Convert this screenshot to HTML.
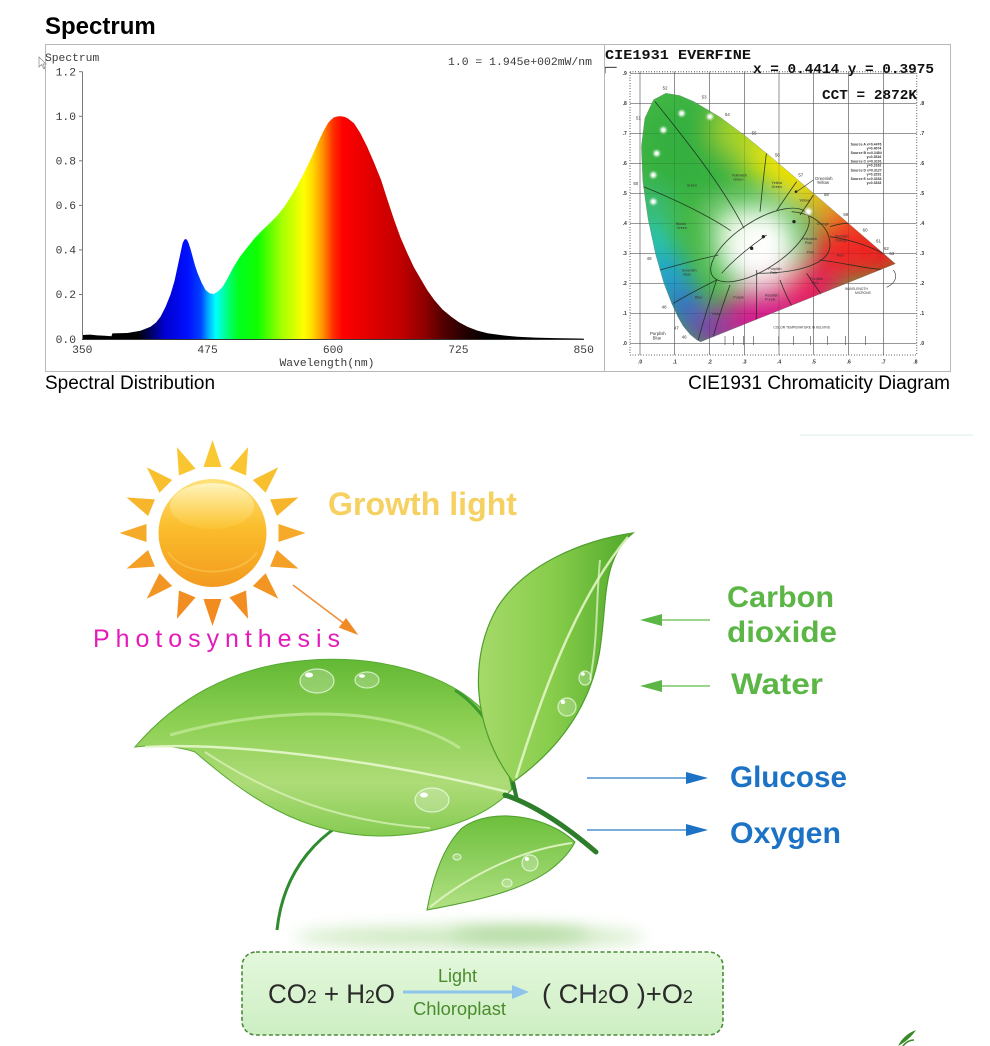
<!DOCTYPE html>
<html><head><meta charset="utf-8"><style>
html,body{margin:0;padding:0;background:#fff;}
svg{display:block;}
</style></head><body>
<svg width="990" height="1046" viewBox="0 0 990 1046" xmlns="http://www.w3.org/2000/svg">
<defs>
  <linearGradient id="spec" gradientUnits="userSpaceOnUse" x1="82.3" y1="0" x2="583.7" y2="0">
    <stop offset="0" stop-color="#000"/>
    <stop offset=".11" stop-color="#000"/>
    <stop offset=".136" stop-color="#000060"/>
    <stop offset=".164" stop-color="#0000d0"/>
    <stop offset=".21" stop-color="#0010ff"/>
    <stop offset=".236" stop-color="#0040ff"/>
    <stop offset=".252" stop-color="#00b0ff"/>
    <stop offset=".266" stop-color="#00ffff"/>
    <stop offset=".286" stop-color="#00ff90"/>
    <stop offset=".31" stop-color="#00ff20"/>
    <stop offset=".35" stop-color="#10ff00"/>
    <stop offset=".396" stop-color="#a0ff00"/>
    <stop offset=".442" stop-color="#ffff00"/>
    <stop offset=".46" stop-color="#ffd800"/>
    <stop offset=".48" stop-color="#ff9000"/>
    <stop offset=".50" stop-color="#ff3000"/>
    <stop offset=".52" stop-color="#ff0000"/>
    <stop offset=".56" stop-color="#e80000"/>
    <stop offset=".636" stop-color="#c00000"/>
    <stop offset=".682" stop-color="#900000"/>
    <stop offset=".722" stop-color="#500000"/>
    <stop offset=".768" stop-color="#200000"/>
    <stop offset=".808" stop-color="#000"/>
  </linearGradient>
  <filter id="blurBig" x="-50%" y="-50%" width="200%" height="200%"><feGaussianBlur stdDeviation="40"/></filter>
  <filter id="blur8" x="-50%" y="-200%" width="200%" height="500%"><feGaussianBlur stdDeviation="8"/></filter>
  <filter id="blur3" x="-50%" y="-50%" width="200%" height="200%"><feGaussianBlur stdDeviation="3"/></filter>
  <clipPath id="locus"><path d="M301.6,905.5 L291.5,900.2 L283.3,894.1 L270.2,883.3 L249.4,858.0 L234.3,831.9 L215.2,790.6 L191.7,729.4 L167.4,644.5 L144.5,538.6 L128.6,425.4 L124.1,320.7 L134.5,234.8 L160.6,179.2 L197.5,159.6 L239.1,166.4 L281.4,184.7 L359.5,231.1 L434.6,286.9 L509.2,347.9 L583.2,410.8 L654.5,472.1 L720.0,528.2 L774.0,574.8 L841.2,632.5 L869.9,657.2 L886.3,671.2 Z"/></clipPath>
  <linearGradient id="sunG" x1="0" y1="0" x2="0" y2="1">
    <stop offset="0" stop-color="#fde27a"/>
    <stop offset=".45" stop-color="#fbbd2c"/>
    <stop offset="1" stop-color="#f39a1f"/>
  </linearGradient>
  <linearGradient id="sunH" x1="0" y1="0" x2="0" y2="1">
    <stop offset="0" stop-color="#fff4c0"/>
    <stop offset="1" stop-color="#fcd24a" stop-opacity=".3"/>
  </linearGradient>
  <linearGradient id="leafL" x1="0" y1="0" x2="0" y2="1">
    <stop offset="0" stop-color="#62b834"/>
    <stop offset=".35" stop-color="#8ccf52"/>
    <stop offset=".7" stop-color="#aedc78"/>
    <stop offset="1" stop-color="#86cb52"/>
  </linearGradient>
  <linearGradient id="leafR" x1="0" y1="0" x2="1" y2="0">
    <stop offset="0" stop-color="#a6da6a"/>
    <stop offset=".5" stop-color="#86cc4a"/>
    <stop offset="1" stop-color="#4fa82a"/>
  </linearGradient>
  <linearGradient id="leafS" x1="0" y1="0" x2="0" y2="1">
    <stop offset="0" stop-color="#6cbf3c"/>
    <stop offset="1" stop-color="#b2e184"/>
  </linearGradient>
  <linearGradient id="boxG" x1="0" y1="0" x2="0" y2="1">
    <stop offset="0" stop-color="#e4f8dc"/>
    <stop offset="1" stop-color="#cdeec3"/>
  </linearGradient>
</defs>

<!-- ============ TOP: SPECTRUM ============ -->
<text x="45" y="34" font-family="Liberation Sans, sans-serif" font-weight="bold" font-size="24" fill="#000">Spectrum</text>
<rect x="45.5" y="44.5" width="905" height="327" fill="#fff" stroke="#b8b8b8" stroke-width="1"/>

<path fill="url(#spec)" d="M82.3,339 L82.3,335.0 L90,334.6 L97.3,335.4 L105,335.8 L111.4,336.3 L112.4,333.4 L127.4,333.0 L140.5,330.8 L150.5,326.8 L156,322.5 L160.5,316.7 L165.5,307 L170.5,294.5 L174.5,281 L177.6,266.6 L180.5,253 L182.6,243.2 L184.3,239.8 L185.6,239.0 L187,239.8 L188.6,243.2 L190.5,249 L192.6,256.6 L195,265.5 L197.6,273.1 L201.5,282.5 L205.6,290.0 L209.5,293.3 L213.7,294.0 L218,291.5 L222.7,286.7 L228,277.5 L233.7,266.6 L240.5,256 L247.8,246.8 L254,239 L260.8,231.7 L269,224 L277.8,215.0 L284.5,206.5 L290.9,196.5 L297.5,185.5 L303.9,173.1 L311,158.5 L317.9,143.0 L323,132 L328.0,123.0 L331,119.7 L334.0,117.4 L337.5,116.4 L341.0,116.3 L344.5,116.9 L348,118.5 L354.1,123.4 L360.5,133.5 L367.1,146.6 L374,162.5 L381.1,180.0 L387.5,200 L394.2,220.1 L400.5,237.5 L407.2,253.0 L414,267.5 L421.3,280.0 L427.5,290.5 L434.3,300.0 L442.5,309.5 L451.3,316.7 L459,322.3 L467.4,326.8 L477,330.5 L487.5,333.2 L502,335.3 L517.5,336.8 L535,337.6 L554.6,338.1 L583.7,338.6 L583.7,339 Z"/>

<g stroke="#7a7a7a" stroke-width="1" fill="none">
  <line x1="82.5" y1="71.7" x2="82.5" y2="339"/>
  <line x1="82" y1="339.5" x2="584" y2="339.5" stroke="#333"/>
  <line x1="79" y1="71.7" x2="82.5" y2="71.7"/>
  <line x1="79" y1="116.3" x2="82.5" y2="116.3"/>
  <line x1="79" y1="160.8" x2="82.5" y2="160.8"/>
  <line x1="79" y1="205.4" x2="82.5" y2="205.4"/>
  <line x1="79" y1="249.9" x2="82.5" y2="249.9"/>
  <line x1="79" y1="294.5" x2="82.5" y2="294.5"/>
</g>
<g font-family="Liberation Mono, monospace" font-size="11.3" fill="#3a3a3a">
  <text x="76" y="75.5" text-anchor="end">1.2</text>
  <text x="76" y="120" text-anchor="end">1.0</text>
  <text x="76" y="164.5" text-anchor="end">0.8</text>
  <text x="76" y="209" text-anchor="end">0.6</text>
  <text x="76" y="253.5" text-anchor="end">0.4</text>
  <text x="76" y="298" text-anchor="end">0.2</text>
  <text x="76" y="343" text-anchor="end">0.0</text>
  <text x="82.3" y="353" text-anchor="middle">350</text>
  <text x="207.6" y="353" text-anchor="middle">475</text>
  <text x="333" y="353" text-anchor="middle">600</text>
  <text x="458.4" y="353" text-anchor="middle">725</text>
  <text x="583.7" y="353" text-anchor="middle">850</text>
  <text x="327" y="366" text-anchor="middle">Wavelength(nm)</text>
  <text x="45" y="61">Spectrum</text>
  <text x="448" y="65" textLength="144" lengthAdjust="spacingAndGlyphs">1.0 = 1.945e+002mW/nm</text>
</g>
<polygon points="39,57 39,67 41.5,64.5 44,69 45,68.5 43,64 46,64" fill="#fff" stroke="#888" stroke-width="0.7"/>

<!-- ============ CIE DIAGRAM ============ -->
<svg x="600" y="40" width="360" height="350" viewBox="0 0 1080 1050">
  <g stroke="#5a5a5a" stroke-width="2" fill="none">
    <line x1="120" y1="95" x2="120" y2="945"/><line x1="224" y1="95" x2="224" y2="945"/>
    <line x1="329" y1="95" x2="329" y2="945"/><line x1="433" y1="95" x2="433" y2="945"/>
    <line x1="537" y1="95" x2="537" y2="945"/><line x1="641" y1="95" x2="641" y2="945"/>
    <line x1="746" y1="95" x2="746" y2="945"/><line x1="850" y1="95" x2="850" y2="945"/>
    <line x1="90" y1="100" x2="950" y2="100"/><line x1="90" y1="190" x2="950" y2="190"/>
    <line x1="90" y1="280" x2="950" y2="280"/><line x1="90" y1="370" x2="950" y2="370"/>
    <line x1="90" y1="460" x2="950" y2="460"/><line x1="90" y1="550" x2="950" y2="550"/>
    <line x1="90" y1="640" x2="950" y2="640"/><line x1="90" y1="730" x2="950" y2="730"/>
    <line x1="90" y1="820" x2="950" y2="820"/><line x1="90" y1="910" x2="950" y2="910"/>
  </g>
  <rect x="90" y="95" width="860" height="850" fill="none" stroke="#444" stroke-width="4" stroke-dasharray="2 6"/>
  <line x1="15" y1="82" x2="50" y2="82" stroke="#333" stroke-width="3"/>
  <line x1="15" y1="82" x2="15" y2="100" stroke="#333" stroke-width="3"/>
  <g font-family="Liberation Sans, sans-serif" font-size="15" font-weight="bold" fill="#333">
    <text x="68" y="105">.9</text><text x="68" y="195">.8</text><text x="68" y="285">.7</text>
    <text x="68" y="375">.6</text><text x="68" y="465">.5</text><text x="68" y="555">.4</text>
    <text x="68" y="645">.3</text><text x="68" y="735">.2</text><text x="68" y="825">.1</text><text x="68" y="915">.0</text>
    <text x="960" y="195">.8</text><text x="960" y="285">.7</text><text x="960" y="375">.6</text>
    <text x="960" y="465">.5</text><text x="960" y="555">.4</text><text x="960" y="645">.3</text>
    <text x="960" y="735">.2</text><text x="960" y="825">.1</text><text x="960" y="915">.0</text>
    <text x="114" y="970">.0</text><text x="218" y="970">.1</text><text x="323" y="970">.2</text>
    <text x="427" y="970">.3</text><text x="531" y="970">.4</text><text x="635" y="970">.5</text>
    <text x="740" y="970">.6</text><text x="844" y="970">.7</text><text x="940" y="970">.8</text>
  </g>
  <g clip-path="url(#locus)">
    <rect x="100" y="140" width="800" height="780" fill="#44b844"/>
    <g filter="url(#blurBig)">
      <circle cx="260" cy="330" r="150" fill="#35b040"/>
      <circle cx="420" cy="270" r="80" fill="#a8d428"/>
      <circle cx="520" cy="360" r="80" fill="#e8e410"/>
      <circle cx="600" cy="420" r="70" fill="#f8e000"/>
      <circle cx="680" cy="500" r="60" fill="#f6a821"/>
      <circle cx="760" cy="570" r="80" fill="#f04a22"/>
      <circle cx="840" cy="640" r="80" fill="#ee1c1c"/>
      <circle cx="720" cy="640" r="90" fill="#f02828"/>
      <circle cx="620" cy="760" r="90" fill="#e81e60"/>
      <circle cx="480" cy="820" r="100" fill="#d81f8e"/>
      <circle cx="350" cy="870" r="60" fill="#a02aa8"/>
      <circle cx="290" cy="860" r="40" fill="#6030c0"/>
      <circle cx="250" cy="790" r="55" fill="#2f5ee0"/>
      <circle cx="200" cy="700" r="60" fill="#1a9ee8"/>
      <circle cx="160" cy="600" r="50" fill="#1ec8dc"/>
      <circle cx="150" cy="500" r="40" fill="#30c0a0"/>
      <circle cx="470" cy="615" r="120" fill="#ffffff"/>
      <circle cx="400" cy="560" r="60" fill="#f0fae8"/>
    </g>
    <g stroke="#000" stroke-width="2" opacity=".18">
      <line x1="224" y1="95" x2="224" y2="945"/><line x1="329" y1="95" x2="329" y2="945"/>
      <line x1="433" y1="95" x2="433" y2="945"/><line x1="537" y1="95" x2="537" y2="945"/>
      <line x1="641" y1="95" x2="641" y2="945"/><line x1="746" y1="95" x2="746" y2="945"/>
      <line x1="90" y1="280" x2="950" y2="280"/><line x1="90" y1="370" x2="950" y2="370"/>
      <line x1="90" y1="460" x2="950" y2="460"/><line x1="90" y1="550" x2="950" y2="550"/>
      <line x1="90" y1="640" x2="950" y2="640"/><line x1="90" y1="730" x2="950" y2="730"/>
      <line x1="90" y1="820" x2="950" y2="820"/>
    </g>
    <g stroke="#1a2a1a" stroke-width="2.5" fill="none" opacity=".85">
      <path d="M165,185 C250,290 370,440 432,565"/>
      <path d="M130,440 C230,480 330,530 392,572"/>
      <path d="M500,335 C490,410 485,470 480,515"/>
      <path d="M590,425 C565,460 545,490 530,512"/>
      <path d="M640,465 C625,490 610,510 600,525"/>
      <ellipse cx="480" cy="615" rx="170" ry="72" transform="rotate(-33 480 615)"/>
      <path d="M575,515 C640,520 690,560 690,615 C690,670 600,700 470,700"/>
      <path d="M470,690 L470,745 C470,790 470,820 468,845"/>
      <path d="M350,720 C330,780 310,840 295,900"/>
      <path d="M390,735 C370,790 350,850 340,890"/>
      <path d="M540,720 C555,760 570,790 585,815"/>
      <path d="M620,700 C640,730 660,760 685,790"/>
      <path d="M180,690 C250,670 310,655 355,645"/>
      <path d="M220,790 C270,760 320,735 350,720"/>
      <path d="M690,590 C760,600 830,625 885,660"/>
      <path d="M660,660 C740,670 810,690 880,690"/>
      <path d="M690,560 C720,550 760,545 790,555"/>
    </g>
    <g fill="#fff">
      <circle cx="245" cy="220" r="9" filter="url(#blur3)"/>
      <circle cx="330" cy="230" r="9" filter="url(#blur3)"/>
      <circle cx="190" cy="270" r="9" filter="url(#blur3)"/>
      <circle cx="170" cy="340" r="9" filter="url(#blur3)"/>
      <circle cx="160" cy="405" r="9" filter="url(#blur3)"/>
      <circle cx="160" cy="485" r="9" filter="url(#blur3)"/>
      <circle cx="625" cy="515" r="10" filter="url(#blur3)"/>
    </g>
    <g fill="#222">
      <circle cx="490" cy="590" r="5"/><circle cx="455" cy="625" r="5"/><circle cx="582" cy="545" r="5"/><circle cx="588" cy="455" r="4"/>
    </g>
    <path d="M365,700 C400,660 450,620 500,585" stroke="#222" stroke-width="2" fill="none"/>
    <g font-family="Liberation Sans, sans-serif" font-size="11" fill="#333">
      <text x="260" y="440">Green</text><text x="395" y="410">Yellowish</text><text x="400" y="422">Green</text>
      <text x="515" y="432">Yellow</text><text x="515" y="444">Green</text><text x="598" y="485">Yellow</text>
      <text x="228" y="555">Bluish</text><text x="230" y="567">Green</text><text x="605" y="600">Yellowish</text><text x="615" y="612">Pink</text>
      <text x="620" y="640">Pink</text><text x="710" y="650">Red</text><text x="705" y="592">Reddish</text><text x="705" y="604">Orange</text>
      <text x="245" y="695">Greenish</text><text x="250" y="707">Blue</text><text x="285" y="775">Blue</text>
      <text x="400" y="775">Purple</text><text x="505" y="690">Purplish</text><text x="510" y="702">Pink</text>
      <text x="495" y="770">Reddish</text><text x="495" y="782">Purple</text><text x="630" y="720">Purplish</text><text x="635" y="732">Red</text>
      <text x="335" y="825">Violet</text><text x="650" y="555">Orange</text>
    </g>
  </g>
  <path d="M301.6,905.5 L291.5,900.2 L283.3,894.1 L270.2,883.3 L249.4,858.0 L234.3,831.9 L215.2,790.6 L191.7,729.4 L167.4,644.5 L144.5,538.6 L128.6,425.4 L124.1,320.7 L134.5,234.8 L160.6,179.2 L197.5,159.6 L239.1,166.4 L281.4,184.7 L359.5,231.1 L434.6,286.9 L509.2,347.9 L583.2,410.8 L654.5,472.1 L720.0,528.2 L774.0,574.8 L841.2,632.5 L869.9,657.2 L886.3,671.2 Z" fill="none" stroke="#6a6a6a" stroke-width="1.5" opacity=".5"/>
  <g font-family="Liberation Sans, sans-serif" font-size="13" fill="#333">
    <text x="188" y="148">52</text><text x="305" y="175">53</text><text x="375" y="228">54</text>
    <text x="455" y="284">55</text><text x="525" y="350">56</text><text x="595" y="410">57</text>
    <text x="672" y="468">58</text><text x="730" y="528">59</text><text x="788" y="575">60</text>
    <text x="828" y="608">61</text><text x="852" y="630">62</text><text x="868" y="645">63</text>
    <text x="108" y="238">51</text><text x="100" y="435">50</text><text x="140" y="660">49</text>
    <text x="185" y="805">48</text><text x="222" y="868">47</text><text x="245" y="895">46</text>
    <text x="150" y="885">Purplish</text><text x="158" y="898">Blue</text>
    <text x="520" y="865" font-size="10">COLOR TEMPERATURE IN KELVINS</text>
    <text x="735" y="750" font-size="10">WAVELENGTH</text><text x="765" y="762" font-size="10">MICRONS</text>
    <text x="645" y="420">Greenish</text><text x="650" y="432">Yellow</text>
  </g>
  <path d="M880,690 C895,710 885,730 860,742" fill="none" stroke="#444" stroke-width="2"/>
  <path d="M590,455 L640,420" stroke="#444" stroke-width="2"/>
  <g font-family="Liberation Sans, sans-serif" font-size="10.5" font-weight="bold" fill="#333">
    <text x="752" y="316">Source A  x=0.4476</text><text x="800" y="328">y=0.4074</text>
    <text x="752" y="342">Source B  x=0.3484</text><text x="800" y="354">y=0.3516</text>
    <text x="752" y="368">Source C  x=0.3101</text><text x="800" y="380">y=0.3162</text>
    <text x="752" y="394">Source D  x=0.3127</text><text x="800" y="406">y=0.3291</text>
    <text x="752" y="420">Source E  x=0.3333</text><text x="800" y="432">y=0.3333</text>
  </g>
  <g stroke="#555" stroke-width="2">
    <line x1="375" y1="888" x2="375" y2="915"/><line x1="400" y1="888" x2="400" y2="915"/>
    <line x1="430" y1="888" x2="430" y2="915"/><line x1="460" y1="888" x2="460" y2="915"/>
    <line x1="536" y1="888" x2="536" y2="915"/><line x1="580" y1="888" x2="580" y2="915"/>
    <line x1="632" y1="888" x2="632" y2="915"/><line x1="682" y1="888" x2="682" y2="915"/>
    <line x1="736" y1="888" x2="736" y2="915"/><line x1="796" y1="888" x2="796" y2="915"/>
  </g>
</svg>
<line x1="604.5" y1="44.5" x2="604.5" y2="371.5" stroke="#b8b8b8" stroke-width="1"/>
<g font-family="Liberation Mono, monospace" font-weight="bold" font-size="14" fill="#111">
  <text x="605" y="59" textLength="146" lengthAdjust="spacingAndGlyphs">CIE1931  EVERFINE</text>
  <text x="753" y="73" textLength="181" lengthAdjust="spacingAndGlyphs">x = 0.4414 y = 0.3975</text>
  <text x="822" y="99" textLength="95" lengthAdjust="spacingAndGlyphs">CCT = 2872K</text>
</g>
<g font-family="Liberation Sans, sans-serif" font-size="19" fill="#000">
  <text x="45" y="389">Spectral Distribution</text>
  <text x="950" y="389" text-anchor="end">CIE1931 Chromaticity Diagram</text>
</g>

<!-- ============ BOTTOM ILLUSTRATION ============ -->
<line x1="800" y1="435" x2="973" y2="435" stroke="#e2f2ea" stroke-width="1.2"/>

<g>
  <polygon points="212.5,440 203.5,467 221.5,467" fill="#f9c832" transform="rotate(0 212.5 533)"/>
  <polygon points="212.5,440 203.5,467 221.5,467" fill="#f9c631" transform="rotate(22.5 212.5 533)"/>
  <polygon points="212.5,440 203.5,467 221.5,467" fill="#f8bf2f" transform="rotate(45 212.5 533)"/>
  <polygon points="212.5,440 203.5,467 221.5,467" fill="#f7b52c" transform="rotate(67.5 212.5 533)"/>
  <polygon points="212.5,440 203.5,467 221.5,467" fill="#f6aa29" transform="rotate(90 212.5 533)"/>
  <polygon points="212.5,440 203.5,467 221.5,467" fill="#f49f26" transform="rotate(112.5 212.5 533)"/>
  <polygon points="212.5,440 203.5,467 221.5,467" fill="#f39523" transform="rotate(135 212.5 533)"/>
  <polygon points="212.5,440 203.5,467 221.5,467" fill="#f28e21" transform="rotate(157.5 212.5 533)"/>
  <polygon points="212.5,440 203.5,467 221.5,467" fill="#f28c20" transform="rotate(180 212.5 533)"/>
  <polygon points="212.5,440 203.5,467 221.5,467" fill="#f28e21" transform="rotate(202.5 212.5 533)"/>
  <polygon points="212.5,440 203.5,467 221.5,467" fill="#f39523" transform="rotate(225 212.5 533)"/>
  <polygon points="212.5,440 203.5,467 221.5,467" fill="#f49f26" transform="rotate(247.5 212.5 533)"/>
  <polygon points="212.5,440 203.5,467 221.5,467" fill="#f6aa29" transform="rotate(270 212.5 533)"/>
  <polygon points="212.5,440 203.5,467 221.5,467" fill="#f7b52c" transform="rotate(292.5 212.5 533)"/>
  <polygon points="212.5,440 203.5,467 221.5,467" fill="#f8bf2f" transform="rotate(315 212.5 533)"/>
  <polygon points="212.5,440 203.5,467 221.5,467" fill="#f9c631" transform="rotate(337.5 212.5 533)"/>
</g>
<circle cx="212.5" cy="533" r="54" fill="url(#sunG)"/>
<ellipse cx="212" cy="506" rx="42" ry="23" fill="url(#sunH)"/>
<path d="M168,552 C185,578 240,578 257,552" fill="none" stroke="#fbc850" stroke-width="2" opacity=".6"/>

<text x="328" y="515" font-family="Liberation Sans, sans-serif" font-weight="bold" font-size="32" fill="#f6d060" textLength="189" lengthAdjust="spacingAndGlyphs">Growth light</text>
<text x="93" y="647" font-family="Liberation Sans, sans-serif" font-size="25" fill="#e31cb9" textLength="247" lengthAdjust="spacing">Photosynthesis</text>
<line x1="293" y1="585" x2="346" y2="625" stroke="#f0903a" stroke-width="1.6"/>
<polygon points="358.3,635 338.8,627.6 346.1,618" fill="#f08a25"/>

<!-- plant shadow -->
<ellipse cx="470" cy="937" rx="175" ry="10" fill="#cbe8bd" filter="url(#blur8)"/>
<ellipse cx="520" cy="934" rx="70" ry="6" fill="#a9d696" filter="url(#blur8)"/>

<path d="M277,930 C283,872 318,826 378,808 C428,794 475,794 512,797" fill="none" stroke="#2e8b2e" stroke-width="3"/>

<!-- left leaf -->
<path d="M135,747 C175,700 230,668 300,661 C380,653 450,675 485,712 C503,735 512,765 513,788 C490,815 440,836 378,836 C300,835 245,795 195,752 C175,745 150,745 135,747 Z" fill="url(#leafL)" stroke="#58aa34" stroke-width="1"/>
<path d="M455,690 C485,710 505,745 513,790" fill="none" stroke="#3d9a2e" stroke-width="3"/>
<path d="M170,735 C230,718 300,710 360,716 C410,722 440,735 460,748" fill="none" stroke="#c8eca0" stroke-width="3" opacity=".7"/>
<path d="M145,747 C230,742 380,760 508,792" fill="none" stroke="#e6f7cc" stroke-width="2.5" opacity=".9"/>
<path d="M205,752 C270,795 340,822 430,828" fill="none" stroke="#e0f5c0" stroke-width="2" opacity=".7"/>

<!-- upper right leaf -->
<path d="M633,533 C585,540 525,563 497,608 C470,655 470,725 513,782 C555,752 588,712 599,655 C608,605 600,560 633,533 Z" fill="url(#leafR)" stroke="#4e9e2c" stroke-width="1.2"/>
<path d="M516,778 C540,700 575,600 628,537" fill="none" stroke="#e2f5c4" stroke-width="2.5" opacity=".9"/>
<path d="M600,560 C596,600 598,640 590,680" fill="none" stroke="#e8f8d0" stroke-width="2" opacity=".7"/>

<!-- small leaf -->
<path d="M575,842 C548,816 492,806 462,828 C442,848 432,882 427,910 C470,902 520,892 550,870 C563,860 571,850 575,842 Z" fill="url(#leafS)" stroke="#4e9e2c" stroke-width="1"/>
<path d="M572,843 C520,850 470,875 430,907" fill="none" stroke="#e2f5c4" stroke-width="2" opacity=".9"/>

<path d="M505,795 C535,805 568,828 596,852" fill="none" stroke="#2e7d2a" stroke-width="5" stroke-linecap="round"/>
<path d="M513,782 L517,800" stroke="#2e7d2a" stroke-width="4"/>

<g fill="#ffffff" fill-opacity=".22" stroke="#f4fff0" stroke-opacity=".7" stroke-width="1.2">
  <ellipse cx="317" cy="681" rx="17" ry="12"/>
  <ellipse cx="367" cy="680" rx="12" ry="8"/>
  <ellipse cx="432" cy="800" rx="17" ry="12"/>
  <ellipse cx="567" cy="707" rx="9" ry="9"/>
  <ellipse cx="585" cy="678" rx="6" ry="7"/>
  <ellipse cx="530" cy="863" rx="8" ry="8"/>
  <ellipse cx="507" cy="883" rx="5" ry="4"/>
  <ellipse cx="457" cy="857" rx="4" ry="3"/>
</g>
<g fill="#ffffff">
  <ellipse cx="309" cy="675" rx="4" ry="2.5"/>
  <ellipse cx="362" cy="676" rx="3" ry="1.8"/>
  <ellipse cx="424" cy="795" rx="4" ry="2.5"/>
  <circle cx="563" cy="702" r="2.2"/>
  <circle cx="583" cy="674" r="1.8"/>
  <circle cx="527" cy="859" r="2"/>
</g>

<g stroke-width="1.6">
  <line x1="662" y1="620" x2="710" y2="620" stroke="#7cc866"/>
  <polygon points="640,620 662,614 662,626" fill="#5cb646"/>
  <line x1="662" y1="686" x2="710" y2="686" stroke="#7cc866"/>
  <polygon points="640,686 662,680 662,692" fill="#5cb646"/>
  <line x1="587" y1="778" x2="688" y2="778" stroke="#4a90d0"/>
  <polygon points="708,778 686,772 686,784" fill="#1c73c6"/>
  <line x1="587" y1="830" x2="688" y2="830" stroke="#4a90d0"/>
  <polygon points="708,830 686,824 686,836" fill="#1c73c6"/>
</g>
<g font-family="Liberation Sans, sans-serif" font-weight="bold" font-size="30">
  <text x="727" y="607" fill="#5cb646" textLength="107" lengthAdjust="spacingAndGlyphs">Carbon</text>
  <text x="727" y="642" fill="#5cb646" textLength="110" lengthAdjust="spacingAndGlyphs">dioxide</text>
  <text x="731" y="694" fill="#5cb646" textLength="92" lengthAdjust="spacingAndGlyphs">Water</text>
  <text x="730" y="787" fill="#1c73c6" textLength="117" lengthAdjust="spacingAndGlyphs">Glucose</text>
  <text x="730" y="843" fill="#1c73c6" textLength="111" lengthAdjust="spacingAndGlyphs">Oxygen</text>
</g>

<rect x="242" y="952" width="481" height="83" rx="14" ry="14" fill="url(#boxG)" stroke="#4a8a3a" stroke-width="1.6" stroke-dasharray="4 2.5"/>
<g font-family="Liberation Sans, sans-serif" fill="#2a2a2a">
  <text x="268" y="1003" font-size="27" textLength="127" lengthAdjust="spacingAndGlyphs">CO<tspan font-size="18">2</tspan> + H<tspan font-size="18">2</tspan>O</text>
  <text x="542" y="1003" font-size="27" textLength="151" lengthAdjust="spacingAndGlyphs">( CH<tspan font-size="18">2</tspan>O )+O<tspan font-size="18">2</tspan></text>
</g>
<g font-family="Liberation Sans, sans-serif" font-size="18" fill="#4a8c2c">
  <text x="438" y="982">Light</text>
  <text x="413" y="1015" textLength="93" lengthAdjust="spacingAndGlyphs">Chloroplast</text>
</g>
<line x1="403" y1="992" x2="516" y2="992" stroke="#8ec4ec" stroke-width="3"/>
<polygon points="529,992 512,985 512,999" fill="#8ec4ec"/>

<path d="M898,1046 C902,1038 908,1033 916,1030 C912,1036 906,1042 898,1046 Z" fill="#3a8a2a"/>
<path d="M903,1046 C906,1042 910,1040 914,1040" stroke="#3a8a2a" stroke-width="1.5" fill="none"/>
</svg>
</body></html>
